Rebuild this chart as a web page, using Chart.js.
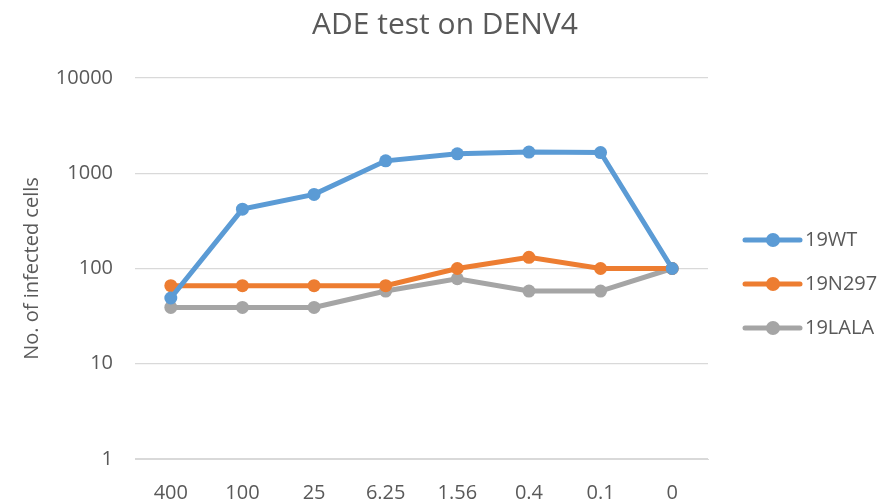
<!DOCTYPE html>
<html>
<head>
<meta charset="utf-8">
<script src="https://cdn.jsdelivr.net/npm/chart.js@4.4.0/dist/chart.umd.min.js"></script>
<style>
  html, body { margin: 0; padding: 0; background: #fff; }
  #wrap { width: 890px; height: 502px; }
</style>
</head>
<body>
<div id="wrap"><canvas id="adeChart"></canvas></div>
<script>
// antibody dilutions (x axis)
const dilutions = ["400", "100", "25", "6.25", "1.56", "0.4", "0.1", "0"];

// infected cell counts per antibody variant
const wt19 = [49, 420, 600, 1350, 1600, 1670, 1650, 100];
const n297_19 = [66, 66, 66, 66, 100, 131, 100, 100];
const lala19 = [39, 39, 39, 58, 78, 58, 58, 100];

const yTicks = [1, 10, 100, 1000, 10000];

const textColor = '#595959';
const fontFamily = "'Open Sans', 'Noto Sans', sans-serif";

// legend drawn as Excel style: short line with a marker in the middle
const lineLegend = {
  id: 'lineLegend',
  afterDraw(chart) {
    const ctx = chart.ctx;
    const area = chart.chartArea;
    const x0 = area.right + 37;
    const y0 = 240;
    ctx.save();
    chart.data.datasets.forEach(function (ds, i) {
      const y = y0 + i * 44;
      ctx.strokeStyle = ds.borderColor;
      ctx.lineWidth = 5;
      ctx.lineCap = 'round';
      ctx.beginPath();
      ctx.moveTo(x0, y);
      ctx.lineTo(x0 + 55, y);
      ctx.stroke();
      ctx.fillStyle = ds.borderColor;
      ctx.beginPath();
      ctx.arc(x0 + 28, y, 7, 0, Math.PI * 2);
      ctx.fill();
      ctx.fillStyle = textColor;
      ctx.font = '20px ' + fontFamily;
      ctx.textAlign = 'left';
      ctx.textBaseline = 'middle';
      ctx.fillText(ds.label, x0 + 60, y);
    });
    ctx.restore();
  }
};

function makeSet(label, data, color) {
  return {
    label: label,
    data: data,
    borderColor: color,
    backgroundColor: color,
    borderWidth: 5,
    pointRadius: 6.5,
    pointHoverRadius: 6.5,
    pointBorderWidth: 0,
    tension: 0
  };
}

const ctx = document.getElementById('adeChart').getContext('2d');
const adeChart = new Chart(ctx, {
  type: 'line',
  data: {
    labels: dilutions,
    datasets: [
      makeSet('19WT', wt19, '#5B9BD5'),
      makeSet('19N297', n297_19, '#ED7D31'),
      makeSet('19LALA', lala19, '#A5A5A5')
    ]
  },
  options: {
    responsive: true,
    maintainAspectRatio: false,
    animation: false,
    layout: {
      padding: 0
    },
    plugins: {
      legend: { display: false },
      tooltip: { enabled: false },
      title: {
        display: true,
        text: 'ADE test on DENV4',
        color: textColor,
        font: { family: fontFamily, size: 30, weight: 'normal' },
        padding: { top: 7, bottom: 35 }
      }
    },
    scales: {
      x: {
        offset: true,
        grid: { display: false },
        border: { color: '#d9d9d9', width: 1 },
        ticks: {
          color: textColor,
          padding: 14,
          maxRotation: 0,
          font: { family: fontFamily, size: 20 }
        },
        afterFit(scale) { scale.height = 43; }
      },
      y: {
        type: 'logarithmic',
        min: 1,
        max: 10000,
        afterBuildTicks(scale) {
          scale.ticks = yTicks.map(function (v) { return { value: v }; });
        },
        afterFit(scale) { scale.width = 135; },
        grid: { color: '#d9d9d9', lineWidth: 1.3, drawTicks: false },
        border: { display: false },
        ticks: {
          color: textColor,
          padding: 22,
          font: { family: fontFamily, size: 20 },
          callback: function (v) { return String(v); }
        },
        title: {
          display: true,
          text: 'No. of infected cells',
          color: textColor,
          font: { family: fontFamily, size: 20 },
          padding: { top: 20, bottom: 0 }
        }
      },
      // empty right-hand strip that leaves room for the legend
      legendSpace: {
        position: 'right',
        grid: { display: false },
        border: { display: false },
        ticks: { display: false },
        afterFit(scale) { scale.width = 182; }
      }
    }
  },
  plugins: [lineLegend]
});
</script>
</body>
</html>
